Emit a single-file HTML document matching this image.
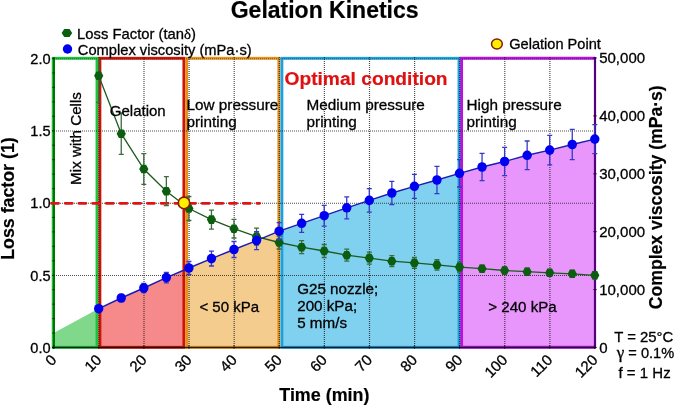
<!DOCTYPE html>
<html><head><meta charset="utf-8"><style>
html,body{margin:0;padding:0;background:#fff;width:675px;height:405px;overflow:hidden}
svg{display:block;filter:blur(0.35px)}
text{font-family:"Liberation Sans",sans-serif}
</style></head><body>
<svg width="675" height="405" viewBox="0 0 675 405">
<polygon fill="#80d88a" points="53.20,347.50 53.20,333.16 97.00,309.61 97.00,347.50"/>
<polygon fill="#f68a8a" points="99.90,347.50 99.90,308.13 121.25,298.00 143.80,288.00 166.35,277.60 183.90,270.13 183.90,347.50"/>
<polygon fill="#f4cc8e" points="186.70,347.50 186.70,268.94 188.90,268.00 211.45,258.60 234.00,249.50 256.55,240.60 278.80,231.33 278.80,347.50"/>
<polygon fill="#80d0f0" points="281.90,347.50 281.90,230.22 301.65,223.30 324.20,215.70 346.75,207.80 369.30,200.40 391.85,193.00 414.40,186.30 436.95,180.00 459.00,173.45 459.00,347.50"/>
<polygon fill="#e896fc" points="461.60,347.50 461.60,172.71 482.05,167.00 504.60,161.50 527.15,155.30 549.70,150.10 572.25,144.50 594.00,139.29 594.00,347.50"/>
<rect x="53.20" y="58.3" width="43.80" height="289.00" fill="none" stroke="#1fc23a" stroke-width="2.9"/>
<rect x="99.90" y="58.3" width="84.00" height="289.00" fill="none" stroke="#cc1408" stroke-width="2.9"/>
<rect x="186.70" y="58.3" width="92.10" height="289.00" fill="none" stroke="#e8921c" stroke-width="2.9"/>
<rect x="281.90" y="58.3" width="177.10" height="289.00" fill="none" stroke="#1ea0dc" stroke-width="2.9"/>
<path d="M595.00 58.3H461.60V347.3H595.00" fill="none" stroke="#b614de" stroke-width="2.9"/>
<line x1="52" x2="596" y1="275.45" y2="275.45" stroke="#202020" stroke-width="1.1" stroke-dasharray="1 1" opacity="0.80"/>
<line x1="52" x2="596" y1="203.20" y2="203.20" stroke="#202020" stroke-width="1.1" stroke-dasharray="1 1" opacity="0.80"/>
<line x1="52" x2="596" y1="130.95" y2="130.95" stroke="#202020" stroke-width="1.1" stroke-dasharray="1 1" opacity="0.80"/>
<line x1="52" x2="596" y1="58.70" y2="58.70" stroke="#202020" stroke-width="1.1" stroke-dasharray="1 1" opacity="0.50"/>
<line y1="57" y2="349" x1="98.90" x2="98.90" stroke="#202020" stroke-width="1.2" stroke-dasharray="1 1" opacity="0.8"/>
<line y1="57" y2="349" x1="144.00" x2="144.00" stroke="#202020" stroke-width="1.2" stroke-dasharray="1 1" opacity="0.8"/>
<line y1="57" y2="349" x1="189.10" x2="189.10" stroke="#202020" stroke-width="1.2" stroke-dasharray="1 1" opacity="0.8"/>
<line y1="57" y2="349" x1="234.20" x2="234.20" stroke="#202020" stroke-width="1.2" stroke-dasharray="1 1" opacity="0.8"/>
<line y1="57" y2="349" x1="279.30" x2="279.30" stroke="#202020" stroke-width="1.2" stroke-dasharray="1 1" opacity="0.8"/>
<line y1="57" y2="349" x1="324.40" x2="324.40" stroke="#202020" stroke-width="1.2" stroke-dasharray="1 1" opacity="0.8"/>
<line y1="57" y2="349" x1="369.50" x2="369.50" stroke="#202020" stroke-width="1.2" stroke-dasharray="1 1" opacity="0.8"/>
<line y1="57" y2="349" x1="414.60" x2="414.60" stroke="#202020" stroke-width="1.2" stroke-dasharray="1 1" opacity="0.8"/>
<line y1="57" y2="349" x1="459.70" x2="459.70" stroke="#202020" stroke-width="1.2" stroke-dasharray="1 1" opacity="0.8"/>
<line y1="57" y2="349" x1="504.80" x2="504.80" stroke="#202020" stroke-width="1.2" stroke-dasharray="1 1" opacity="0.8"/>
<line y1="57" y2="349" x1="549.90" x2="549.90" stroke="#202020" stroke-width="1.2" stroke-dasharray="1 1" opacity="0.8"/>
<line x1="54.0" x2="54.0" y1="57" y2="348.5" stroke="#006e00" stroke-width="1.9"/>
<line x1="52" x2="596" y1="347.45" y2="347.45" stroke="#000" stroke-width="1.6" opacity="0.8"/>
<line x1="595.0" x2="595.0" y1="57" y2="348.5" stroke="#560080" stroke-width="2.2"/>
<line x1="52.2" x2="54.6" y1="347.50" y2="347.50" stroke="#000" stroke-width="1.1" opacity="0.6"/>
<line x1="52.2" x2="54.6" y1="333.05" y2="333.05" stroke="#000" stroke-width="1.1" opacity="0.6"/>
<line x1="52.2" x2="54.6" y1="318.60" y2="318.60" stroke="#000" stroke-width="1.1" opacity="0.6"/>
<line x1="52.2" x2="54.6" y1="304.15" y2="304.15" stroke="#000" stroke-width="1.1" opacity="0.6"/>
<line x1="52.2" x2="54.6" y1="289.70" y2="289.70" stroke="#000" stroke-width="1.1" opacity="0.6"/>
<line x1="52.2" x2="54.6" y1="275.25" y2="275.25" stroke="#000" stroke-width="1.1" opacity="0.6"/>
<line x1="52.2" x2="54.6" y1="260.80" y2="260.80" stroke="#000" stroke-width="1.1" opacity="0.6"/>
<line x1="52.2" x2="54.6" y1="246.35" y2="246.35" stroke="#000" stroke-width="1.1" opacity="0.6"/>
<line x1="52.2" x2="54.6" y1="231.90" y2="231.90" stroke="#000" stroke-width="1.1" opacity="0.6"/>
<line x1="52.2" x2="54.6" y1="217.45" y2="217.45" stroke="#000" stroke-width="1.1" opacity="0.6"/>
<line x1="52.2" x2="54.6" y1="203.00" y2="203.00" stroke="#000" stroke-width="1.1" opacity="0.6"/>
<line x1="52.2" x2="54.6" y1="188.55" y2="188.55" stroke="#000" stroke-width="1.1" opacity="0.6"/>
<line x1="52.2" x2="54.6" y1="174.10" y2="174.10" stroke="#000" stroke-width="1.1" opacity="0.6"/>
<line x1="52.2" x2="54.6" y1="159.65" y2="159.65" stroke="#000" stroke-width="1.1" opacity="0.6"/>
<line x1="52.2" x2="54.6" y1="145.20" y2="145.20" stroke="#000" stroke-width="1.1" opacity="0.6"/>
<line x1="52.2" x2="54.6" y1="130.75" y2="130.75" stroke="#000" stroke-width="1.1" opacity="0.6"/>
<line x1="52.2" x2="54.6" y1="116.30" y2="116.30" stroke="#000" stroke-width="1.1" opacity="0.6"/>
<line x1="52.2" x2="54.6" y1="101.85" y2="101.85" stroke="#000" stroke-width="1.1" opacity="0.6"/>
<line x1="52.2" x2="54.6" y1="87.40" y2="87.40" stroke="#000" stroke-width="1.1" opacity="0.6"/>
<line x1="52.2" x2="54.6" y1="72.95" y2="72.95" stroke="#000" stroke-width="1.1" opacity="0.6"/>
<line x1="52.2" x2="54.6" y1="58.50" y2="58.50" stroke="#000" stroke-width="1.1" opacity="0.6"/>
<line x1="593" x2="597" y1="347.50" y2="347.50" stroke="#000" stroke-width="1" opacity="0.6"/>
<line x1="593" x2="597" y1="289.60" y2="289.60" stroke="#000" stroke-width="1" opacity="0.6"/>
<line x1="593" x2="597" y1="231.70" y2="231.70" stroke="#000" stroke-width="1" opacity="0.6"/>
<line x1="593" x2="597" y1="173.80" y2="173.80" stroke="#000" stroke-width="1" opacity="0.6"/>
<line x1="593" x2="597" y1="115.90" y2="115.90" stroke="#000" stroke-width="1" opacity="0.6"/>
<line x1="593" x2="597" y1="58.00" y2="58.00" stroke="#000" stroke-width="1" opacity="0.6"/>
<line x1="53.60" x2="53.60" y1="345" y2="349" stroke="#000" stroke-width="1" opacity="0.5"/>
<line x1="98.70" x2="98.70" y1="345" y2="349" stroke="#000" stroke-width="1" opacity="0.5"/>
<line x1="143.80" x2="143.80" y1="345" y2="349" stroke="#000" stroke-width="1" opacity="0.5"/>
<line x1="188.90" x2="188.90" y1="345" y2="349" stroke="#000" stroke-width="1" opacity="0.5"/>
<line x1="234.00" x2="234.00" y1="345" y2="349" stroke="#000" stroke-width="1" opacity="0.5"/>
<line x1="279.10" x2="279.10" y1="345" y2="349" stroke="#000" stroke-width="1" opacity="0.5"/>
<line x1="324.20" x2="324.20" y1="345" y2="349" stroke="#000" stroke-width="1" opacity="0.5"/>
<line x1="369.30" x2="369.30" y1="345" y2="349" stroke="#000" stroke-width="1" opacity="0.5"/>
<line x1="414.40" x2="414.40" y1="345" y2="349" stroke="#000" stroke-width="1" opacity="0.5"/>
<line x1="459.50" x2="459.50" y1="345" y2="349" stroke="#000" stroke-width="1" opacity="0.5"/>
<line x1="504.60" x2="504.60" y1="345" y2="349" stroke="#000" stroke-width="1" opacity="0.5"/>
<line x1="549.70" x2="549.70" y1="345" y2="349" stroke="#000" stroke-width="1" opacity="0.5"/>
<line x1="594.80" x2="594.80" y1="345" y2="349" stroke="#000" stroke-width="1" opacity="0.5"/>
<line x1="51.5" x2="259.6" y1="203.3" y2="203.3" stroke="#e01414" stroke-width="2.8" stroke-dasharray="7 6.7" stroke-linecap="round"/>
<clipPath id="pc"><rect x="40" y="58" width="570" height="300"/></clipPath>
<g clip-path="url(#pc)">
<path d="M98.70 49.10V102.30M96.20 49.10h5.00M96.20 102.30h5.00" stroke="#3d6b3d" stroke-width="1.30" fill="none"/>
<path d="M121.25 113.00V154.40M118.75 113.00h5.00M118.75 154.40h5.00" stroke="#3d6b3d" stroke-width="1.30" fill="none"/>
<path d="M143.80 153.70V184.30M141.30 153.70h5.00M141.30 184.30h5.00" stroke="#3d6b3d" stroke-width="1.30" fill="none"/>
<path d="M166.35 176.70V205.70M163.85 176.70h5.00M163.85 205.70h5.00" stroke="#3d6b3d" stroke-width="1.30" fill="none"/>
<path d="M188.90 196.50V220.50M186.40 196.50h5.00M186.40 220.50h5.00" stroke="#3d6b3d" stroke-width="1.30" fill="none"/>
<path d="M211.45 210.10V229.10M208.95 210.10h5.00M208.95 229.10h5.00" stroke="#3d6b3d" stroke-width="1.30" fill="none"/>
<path d="M234.00 219.40V238.00M231.50 219.40h5.00M231.50 238.00h5.00" stroke="#3d6b3d" stroke-width="1.30" fill="none"/>
<path d="M256.55 228.20V245.00M254.05 228.20h5.00M254.05 245.00h5.00" stroke="#3d6b3d" stroke-width="1.30" fill="none"/>
<path d="M279.10 236.00V249.00M276.60 236.00h5.00M276.60 249.00h5.00" stroke="#3d6b3d" stroke-width="1.30" fill="none"/>
<path d="M301.65 240.70V253.70M299.15 240.70h5.00M299.15 253.70h5.00" stroke="#3d6b3d" stroke-width="1.30" fill="none"/>
<path d="M324.20 244.50V257.50M321.70 244.50h5.00M321.70 257.50h5.00" stroke="#3d6b3d" stroke-width="1.30" fill="none"/>
<path d="M346.75 249.20V261.20M344.25 249.20h5.00M344.25 261.20h5.00" stroke="#3d6b3d" stroke-width="1.30" fill="none"/>
<path d="M369.30 252.10V264.10M366.80 252.10h5.00M366.80 264.10h5.00" stroke="#3d6b3d" stroke-width="1.30" fill="none"/>
<path d="M391.85 255.70V266.70M389.35 255.70h5.00M389.35 266.70h5.00" stroke="#3d6b3d" stroke-width="1.30" fill="none"/>
<path d="M414.40 257.40V268.40M411.90 257.40h5.00M411.90 268.40h5.00" stroke="#3d6b3d" stroke-width="1.30" fill="none"/>
<path d="M436.95 259.60V270.20M434.45 259.60h5.00M434.45 270.20h5.00" stroke="#3d6b3d" stroke-width="1.30" fill="none"/>
<path d="M459.50 262.10V272.10M457.00 262.10h5.00M457.00 272.10h5.00" stroke="#3d6b3d" stroke-width="1.30" fill="none"/>
<path d="M482.05 265.20V272.20M479.55 265.20h5.00M479.55 272.20h5.00" stroke="#3d6b3d" stroke-width="1.30" fill="none"/>
<path d="M504.60 267.00V274.00M502.10 267.00h5.00M502.10 274.00h5.00" stroke="#3d6b3d" stroke-width="1.30" fill="none"/>
<path d="M527.15 268.20V275.20M524.65 268.20h5.00M524.65 275.20h5.00" stroke="#3d6b3d" stroke-width="1.30" fill="none"/>
<path d="M549.70 269.30V276.30M547.20 269.30h5.00M547.20 276.30h5.00" stroke="#3d6b3d" stroke-width="1.30" fill="none"/>
<path d="M572.25 270.30V277.30M569.75 270.30h5.00M569.75 277.30h5.00" stroke="#3d6b3d" stroke-width="1.30" fill="none"/>
<path d="M594.80 271.80V278.80M592.30 271.80h5.00M592.30 278.80h5.00" stroke="#3d6b3d" stroke-width="1.30" fill="none"/>
<polyline fill="none" stroke="#1d5a1d" stroke-width="1.3" points="98.70,75.70 121.25,133.70 143.80,169.00 166.35,191.20 188.90,208.50 211.45,219.60 234.00,228.70 256.55,236.60 279.10,242.50 301.65,247.20 324.20,251.00 346.75,255.20 369.30,258.10 391.85,261.20 414.40,262.90 436.95,264.90 459.50,267.10 482.05,268.70 504.60,270.50 527.15,271.70 549.70,272.80 572.25,273.80 594.80,275.30"/>
<polygon fill="#0b5e0f" points="94.10,75.70 96.40,71.40 101.00,71.40 103.30,75.70 101.00,80.00 96.40,80.00"/>
<polygon fill="#0b5e0f" points="116.65,133.70 118.95,129.40 123.55,129.40 125.85,133.70 123.55,138.00 118.95,138.00"/>
<polygon fill="#0b5e0f" points="139.20,169.00 141.50,164.70 146.10,164.70 148.40,169.00 146.10,173.30 141.50,173.30"/>
<polygon fill="#0b5e0f" points="161.75,191.20 164.05,186.90 168.65,186.90 170.95,191.20 168.65,195.50 164.05,195.50"/>
<polygon fill="#0b5e0f" points="184.30,208.50 186.60,204.20 191.20,204.20 193.50,208.50 191.20,212.80 186.60,212.80"/>
<polygon fill="#0b5e0f" points="206.85,219.60 209.15,215.30 213.75,215.30 216.05,219.60 213.75,223.90 209.15,223.90"/>
<polygon fill="#0b5e0f" points="229.40,228.70 231.70,224.40 236.30,224.40 238.60,228.70 236.30,233.00 231.70,233.00"/>
<polygon fill="#0b5e0f" points="251.95,236.60 254.25,232.30 258.85,232.30 261.15,236.60 258.85,240.90 254.25,240.90"/>
<polygon fill="#0b5e0f" points="274.50,242.50 276.80,238.20 281.40,238.20 283.70,242.50 281.40,246.80 276.80,246.80"/>
<polygon fill="#0b5e0f" points="297.05,247.20 299.35,242.90 303.95,242.90 306.25,247.20 303.95,251.50 299.35,251.50"/>
<polygon fill="#0b5e0f" points="319.60,251.00 321.90,246.70 326.50,246.70 328.80,251.00 326.50,255.30 321.90,255.30"/>
<polygon fill="#0b5e0f" points="342.15,255.20 344.45,250.90 349.05,250.90 351.35,255.20 349.05,259.50 344.45,259.50"/>
<polygon fill="#0b5e0f" points="364.70,258.10 367.00,253.80 371.60,253.80 373.90,258.10 371.60,262.40 367.00,262.40"/>
<polygon fill="#0b5e0f" points="387.25,261.20 389.55,256.90 394.15,256.90 396.45,261.20 394.15,265.50 389.55,265.50"/>
<polygon fill="#0b5e0f" points="409.80,262.90 412.10,258.60 416.70,258.60 419.00,262.90 416.70,267.20 412.10,267.20"/>
<polygon fill="#0b5e0f" points="432.35,264.90 434.65,260.60 439.25,260.60 441.55,264.90 439.25,269.20 434.65,269.20"/>
<polygon fill="#0b5e0f" points="454.90,267.10 457.20,262.80 461.80,262.80 464.10,267.10 461.80,271.40 457.20,271.40"/>
<polygon fill="#0b5e0f" points="477.45,268.70 479.75,264.40 484.35,264.40 486.65,268.70 484.35,273.00 479.75,273.00"/>
<polygon fill="#0b5e0f" points="500.00,270.50 502.30,266.20 506.90,266.20 509.20,270.50 506.90,274.80 502.30,274.80"/>
<polygon fill="#0b5e0f" points="522.55,271.70 524.85,267.40 529.45,267.40 531.75,271.70 529.45,276.00 524.85,276.00"/>
<polygon fill="#0b5e0f" points="545.10,272.80 547.40,268.50 552.00,268.50 554.30,272.80 552.00,277.10 547.40,277.10"/>
<polygon fill="#0b5e0f" points="567.65,273.80 569.95,269.50 574.55,269.50 576.85,273.80 574.55,278.10 569.95,278.10"/>
<polygon fill="#0b5e0f" points="590.20,275.30 592.50,271.00 597.10,271.00 599.40,275.30 597.10,279.60 592.50,279.60"/>
<path d="M98.70 305.70V311.70M96.20 305.70h5.00M96.20 311.70h5.00" stroke="#3838c8" stroke-width="1.30" fill="none"/>
<path d="M121.25 294.50V301.50M118.75 294.50h5.00M118.75 301.50h5.00" stroke="#3838c8" stroke-width="1.30" fill="none"/>
<path d="M143.80 283.50V292.50M141.30 283.50h5.00M141.30 292.50h5.00" stroke="#3838c8" stroke-width="1.30" fill="none"/>
<path d="M166.35 272.30V282.90M163.85 272.30h5.00M163.85 282.90h5.00" stroke="#3838c8" stroke-width="1.30" fill="none"/>
<path d="M188.90 261.50V274.50M186.40 261.50h5.00M186.40 274.50h5.00" stroke="#3838c8" stroke-width="1.30" fill="none"/>
<path d="M211.45 251.20V266.00M208.95 251.20h5.00M208.95 266.00h5.00" stroke="#3838c8" stroke-width="1.30" fill="none"/>
<path d="M234.00 241.50V257.50M231.50 241.50h5.00M231.50 257.50h5.00" stroke="#3838c8" stroke-width="1.30" fill="none"/>
<path d="M256.55 231.60V249.60M254.05 231.60h5.00M254.05 249.60h5.00" stroke="#3838c8" stroke-width="1.30" fill="none"/>
<path d="M279.10 222.70V239.70M276.60 222.70h5.00M276.60 239.70h5.00" stroke="#3838c8" stroke-width="1.30" fill="none"/>
<path d="M301.65 214.30V232.30M299.15 214.30h5.00M299.15 232.30h5.00" stroke="#3838c8" stroke-width="1.30" fill="none"/>
<path d="M324.20 205.30V226.10M321.70 205.30h5.00M321.70 226.10h5.00" stroke="#3838c8" stroke-width="1.30" fill="none"/>
<path d="M346.75 196.80V218.80M344.25 196.80h5.00M344.25 218.80h5.00" stroke="#3838c8" stroke-width="1.30" fill="none"/>
<path d="M369.30 188.70V212.10M366.80 188.70h5.00M366.80 212.10h5.00" stroke="#3838c8" stroke-width="1.30" fill="none"/>
<path d="M391.85 181.30V204.70M389.35 181.30h5.00M389.35 204.70h5.00" stroke="#3838c8" stroke-width="1.30" fill="none"/>
<path d="M414.40 174.30V198.30M411.90 174.30h5.00M411.90 198.30h5.00" stroke="#3838c8" stroke-width="1.30" fill="none"/>
<path d="M436.95 166.40V193.60M434.45 166.40h5.00M434.45 193.60h5.00" stroke="#3838c8" stroke-width="1.30" fill="none"/>
<path d="M459.50 159.60V187.00M457.00 159.60h5.00M457.00 187.00h5.00" stroke="#3838c8" stroke-width="1.30" fill="none"/>
<path d="M482.05 153.40V180.60M479.55 153.40h5.00M479.55 180.60h5.00" stroke="#3838c8" stroke-width="1.30" fill="none"/>
<path d="M504.60 147.30V175.70M502.10 147.30h5.00M502.10 175.70h5.00" stroke="#3838c8" stroke-width="1.30" fill="none"/>
<path d="M527.15 141.00V169.60M524.65 141.00h5.00M524.65 169.60h5.00" stroke="#3838c8" stroke-width="1.30" fill="none"/>
<path d="M549.70 135.30V164.90M547.20 135.30h5.00M547.20 164.90h5.00" stroke="#3838c8" stroke-width="1.30" fill="none"/>
<path d="M572.25 129.30V159.70M569.75 129.30h5.00M569.75 159.70h5.00" stroke="#3838c8" stroke-width="1.30" fill="none"/>
<path d="M594.80 124.60V153.60M592.30 124.60h5.00M592.30 153.60h5.00" stroke="#3838c8" stroke-width="1.30" fill="none"/>
<polyline fill="none" stroke="#1c1cb4" stroke-width="1.4" points="98.70,308.70 121.25,298.00 143.80,288.00 166.35,277.60 188.90,268.00 211.45,258.60 234.00,249.50 256.55,240.60 279.10,231.20 301.65,223.30 324.20,215.70 346.75,207.80 369.30,200.40 391.85,193.00 414.40,186.30 436.95,180.00 459.50,173.30 482.05,167.00 504.60,161.50 527.15,155.30 549.70,150.10 572.25,144.50 594.80,139.10"/>
<ellipse cx="98.70" cy="308.70" rx="4.7" ry="4.8" fill="#0000f0"/>
<ellipse cx="121.25" cy="298.00" rx="4.7" ry="4.8" fill="#0000f0"/>
<ellipse cx="143.80" cy="288.00" rx="4.7" ry="4.8" fill="#0000f0"/>
<ellipse cx="166.35" cy="277.60" rx="4.7" ry="4.8" fill="#0000f0"/>
<ellipse cx="188.90" cy="268.00" rx="4.7" ry="4.8" fill="#0000f0"/>
<ellipse cx="211.45" cy="258.60" rx="4.7" ry="4.8" fill="#0000f0"/>
<ellipse cx="234.00" cy="249.50" rx="4.7" ry="4.8" fill="#0000f0"/>
<ellipse cx="256.55" cy="240.60" rx="4.7" ry="4.8" fill="#0000f0"/>
<ellipse cx="279.10" cy="231.20" rx="4.7" ry="4.8" fill="#0000f0"/>
<ellipse cx="301.65" cy="223.30" rx="4.7" ry="4.8" fill="#0000f0"/>
<ellipse cx="324.20" cy="215.70" rx="4.7" ry="4.8" fill="#0000f0"/>
<ellipse cx="346.75" cy="207.80" rx="4.7" ry="4.8" fill="#0000f0"/>
<ellipse cx="369.30" cy="200.40" rx="4.7" ry="4.8" fill="#0000f0"/>
<ellipse cx="391.85" cy="193.00" rx="4.7" ry="4.8" fill="#0000f0"/>
<ellipse cx="414.40" cy="186.30" rx="4.7" ry="4.8" fill="#0000f0"/>
<ellipse cx="436.95" cy="180.00" rx="4.7" ry="4.8" fill="#0000f0"/>
<ellipse cx="459.50" cy="173.30" rx="4.7" ry="4.8" fill="#0000f0"/>
<ellipse cx="482.05" cy="167.00" rx="4.7" ry="4.8" fill="#0000f0"/>
<ellipse cx="504.60" cy="161.50" rx="4.7" ry="4.8" fill="#0000f0"/>
<ellipse cx="527.15" cy="155.30" rx="4.7" ry="4.8" fill="#0000f0"/>
<ellipse cx="549.70" cy="150.10" rx="4.7" ry="4.8" fill="#0000f0"/>
<ellipse cx="572.25" cy="144.50" rx="4.7" ry="4.8" fill="#0000f0"/>
<ellipse cx="594.80" cy="139.10" rx="4.7" ry="4.8" fill="#0000f0"/>
</g>
<ellipse cx="184" cy="202.9" rx="5.7" ry="5.8" fill="#fff000" stroke="#8a1a00" stroke-width="1.6"/>
<text x="324.65" y="18.20" font-size="23.00" font-weight="bold" fill="#000" stroke="#000" stroke-width="0.20" text-anchor="middle" >Gelation Kinetics</text>
<polygon fill="#0b5e0f" points="61.60,33.00 64.25,29.00 69.55,29.00 72.20,33.00 69.55,37.00 64.25,37.00"/>
<text x="77.10" y="38.60" font-size="14.80" font-weight="normal" fill="#000" stroke="#000" stroke-width="0.30" text-anchor="start" >Loss Factor (tan<tspan style="font-family:'Liberation Serif',serif">&#948;</tspan>)</text>
<circle cx="67.5" cy="49" r="4.7" fill="#0000f0"/>
<text x="77.80" y="54.50" font-size="14.70" font-weight="normal" fill="#000" stroke="#000" stroke-width="0.30" text-anchor="start" >Complex viscosity (mPa&#183;s)</text>
<ellipse cx="496.9" cy="44" rx="5.4" ry="4.9" fill="#fff000" stroke="#8a1a00" stroke-width="1.5"/>
<text x="509.20" y="49.40" font-size="14.60" font-weight="normal" fill="#000" stroke="#000" stroke-width="0.30" text-anchor="start" >Gelation Point</text>
<text x="0.00" y="0.00" font-size="15.20" font-weight="normal" fill="#000" stroke="#000" stroke-width="0.30" text-anchor="start" transform="translate(80.9 184.9) rotate(-90)">Mix with Cells</text>
<text x="109.80" y="116.20" font-size="15.00" font-weight="normal" fill="#000" stroke="#000" stroke-width="0.30" text-anchor="start" >Gelation</text>
<text x="186.50" y="109.90" font-size="15.30" font-weight="normal" fill="#000" stroke="#000" stroke-width="0.30" text-anchor="start" >Low pressure</text>
<text x="186.50" y="127.10" font-size="15.30" font-weight="normal" fill="#000" stroke="#000" stroke-width="0.30" text-anchor="start" >printing</text>
<text x="284.50" y="85.30" font-size="19.20" font-weight="bold" fill="#e01010" stroke="#e01010" stroke-width="0.20" text-anchor="start" >Optimal condition</text>
<text x="306.60" y="109.90" font-size="15.30" font-weight="normal" fill="#000" stroke="#000" stroke-width="0.30" text-anchor="start" >Medium pressure</text>
<text x="306.60" y="127.00" font-size="15.30" font-weight="normal" fill="#000" stroke="#000" stroke-width="0.30" text-anchor="start" >printing</text>
<text x="466.50" y="110.00" font-size="15.30" font-weight="normal" fill="#000" stroke="#000" stroke-width="0.30" text-anchor="start" >High pressure</text>
<text x="466.50" y="126.80" font-size="15.30" font-weight="normal" fill="#000" stroke="#000" stroke-width="0.30" text-anchor="start" >printing</text>
<text x="199.40" y="311.90" font-size="15.00" font-weight="normal" fill="#000" stroke="#000" stroke-width="0.30" text-anchor="start" >&lt; 50 kPa</text>
<text x="297.20" y="293.80" font-size="15.20" font-weight="normal" fill="#000" stroke="#000" stroke-width="0.30" text-anchor="start" >G25 nozzle;</text>
<text x="297.20" y="311.00" font-size="15.20" font-weight="normal" fill="#000" stroke="#000" stroke-width="0.30" text-anchor="start" >200 kPa;</text>
<text x="297.20" y="328.10" font-size="15.20" font-weight="normal" fill="#000" stroke="#000" stroke-width="0.30" text-anchor="start" >5 mm/s</text>
<text x="488.30" y="312.20" font-size="15.10" font-weight="normal" fill="#000" stroke="#000" stroke-width="0.30" text-anchor="start" >&gt; 240 kPa</text>
<text x="50.60" y="352.80" font-size="14.60" font-weight="normal" fill="#000" stroke="#000" stroke-width="0.30" text-anchor="end" >0.0</text>
<text x="50.60" y="280.55" font-size="14.60" font-weight="normal" fill="#000" stroke="#000" stroke-width="0.30" text-anchor="end" >0.5</text>
<text x="50.60" y="208.30" font-size="14.60" font-weight="normal" fill="#000" stroke="#000" stroke-width="0.30" text-anchor="end" >1.0</text>
<text x="50.60" y="136.05" font-size="14.60" font-weight="normal" fill="#000" stroke="#000" stroke-width="0.30" text-anchor="end" >1.5</text>
<text x="50.60" y="63.80" font-size="14.60" font-weight="normal" fill="#000" stroke="#000" stroke-width="0.30" text-anchor="end" >2.0</text>
<text x="599.20" y="352.80" font-size="15.00" font-weight="normal" fill="#000" stroke="#000" stroke-width="0.30" text-anchor="start" >0</text>
<text x="599.20" y="294.90" font-size="15.00" font-weight="normal" fill="#000" stroke="#000" stroke-width="0.30" text-anchor="start" >10,000</text>
<text x="599.20" y="237.00" font-size="15.00" font-weight="normal" fill="#000" stroke="#000" stroke-width="0.30" text-anchor="start" >20,000</text>
<text x="599.20" y="179.10" font-size="15.00" font-weight="normal" fill="#000" stroke="#000" stroke-width="0.30" text-anchor="start" >30,000</text>
<text x="599.20" y="121.20" font-size="15.00" font-weight="normal" fill="#000" stroke="#000" stroke-width="0.30" text-anchor="start" >40,000</text>
<text x="599.20" y="63.30" font-size="15.00" font-weight="normal" fill="#000" stroke="#000" stroke-width="0.30" text-anchor="start" >50,000</text>
<text x="0.00" y="0.00" font-size="15.00" font-weight="normal" fill="#000" stroke="#000" stroke-width="0.30" text-anchor="end" transform="translate(57.40 360.90) rotate(-45)">0</text>
<text x="0.00" y="0.00" font-size="15.00" font-weight="normal" fill="#000" stroke="#000" stroke-width="0.30" text-anchor="end" transform="translate(102.50 360.90) rotate(-45)">10</text>
<text x="0.00" y="0.00" font-size="15.00" font-weight="normal" fill="#000" stroke="#000" stroke-width="0.30" text-anchor="end" transform="translate(147.60 360.90) rotate(-45)">20</text>
<text x="0.00" y="0.00" font-size="15.00" font-weight="normal" fill="#000" stroke="#000" stroke-width="0.30" text-anchor="end" transform="translate(192.70 360.90) rotate(-45)">30</text>
<text x="0.00" y="0.00" font-size="15.00" font-weight="normal" fill="#000" stroke="#000" stroke-width="0.30" text-anchor="end" transform="translate(237.80 360.90) rotate(-45)">40</text>
<text x="0.00" y="0.00" font-size="15.00" font-weight="normal" fill="#000" stroke="#000" stroke-width="0.30" text-anchor="end" transform="translate(282.90 360.90) rotate(-45)">50</text>
<text x="0.00" y="0.00" font-size="15.00" font-weight="normal" fill="#000" stroke="#000" stroke-width="0.30" text-anchor="end" transform="translate(328.00 360.90) rotate(-45)">60</text>
<text x="0.00" y="0.00" font-size="15.00" font-weight="normal" fill="#000" stroke="#000" stroke-width="0.30" text-anchor="end" transform="translate(373.10 360.90) rotate(-45)">70</text>
<text x="0.00" y="0.00" font-size="15.00" font-weight="normal" fill="#000" stroke="#000" stroke-width="0.30" text-anchor="end" transform="translate(418.20 360.90) rotate(-45)">80</text>
<text x="0.00" y="0.00" font-size="15.00" font-weight="normal" fill="#000" stroke="#000" stroke-width="0.30" text-anchor="end" transform="translate(463.30 360.90) rotate(-45)">90</text>
<text x="0.00" y="0.00" font-size="15.00" font-weight="normal" fill="#000" stroke="#000" stroke-width="0.30" text-anchor="end" transform="translate(508.40 360.90) rotate(-45)">100</text>
<text x="0.00" y="0.00" font-size="15.00" font-weight="normal" fill="#000" stroke="#000" stroke-width="0.30" text-anchor="end" transform="translate(553.50 360.90) rotate(-45)">110</text>
<text x="0.00" y="0.00" font-size="15.00" font-weight="normal" fill="#000" stroke="#000" stroke-width="0.30" text-anchor="end" transform="translate(598.60 360.90) rotate(-45)">120</text>
<text x="0.00" y="0.00" font-size="17.80" font-weight="bold" fill="#000" stroke="#000" stroke-width="0.20" text-anchor="start" transform="translate(13.9 259.8) rotate(-90)">Loss factor (1)</text>
<text x="0.00" y="0.00" font-size="17.60" font-weight="bold" fill="#000" stroke="#000" stroke-width="0.20" text-anchor="start" transform="translate(662 309.2) rotate(-90)">Complex viscosity (mPa&#183;s)</text>
<text x="279.30" y="400.60" font-size="17.90" font-weight="bold" fill="#000" stroke="#000" stroke-width="0.20" text-anchor="start" >Time (min)</text>
<text x="643.80" y="341.70" font-size="14.90" font-weight="normal" fill="#000" stroke="#000" stroke-width="0.30" text-anchor="middle" >T = 25&#176;C</text>
<text x="645.50" y="358.30" font-size="14.60" font-weight="normal" fill="#000" stroke="#000" stroke-width="0.30" text-anchor="middle" ><tspan style="font-family:'Liberation Serif',serif;font-size:17px">&#947;</tspan> = 0.1%</text>
<text x="644.60" y="378.30" font-size="15.00" font-weight="normal" fill="#000" stroke="#000" stroke-width="0.30" text-anchor="middle" >f = 1 Hz</text>
</svg>
</body></html>
